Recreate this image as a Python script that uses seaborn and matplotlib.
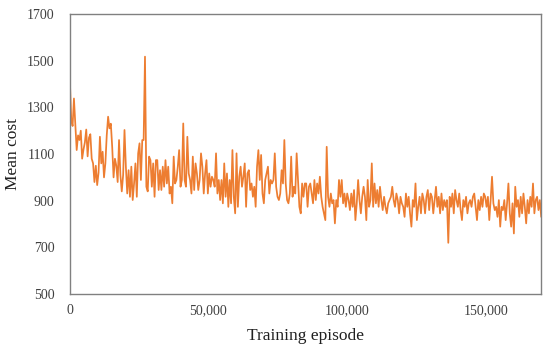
import numpy as np
import pandas as pd
import matplotlib
matplotlib.use('Agg')
import matplotlib.pyplot as plt
import seaborn as sns
from matplotlib.ticker import FuncFormatter

# --- values, left to right ---
seg1 = [1417, 1250, 1220, 1338, 1230, 1117, 1180, 1160, 1200, 1080,
        1120, 1150, 1205, 1090, 1170, 1185, 1080, 1060, 980, 1050,
        967, 1020, 1174, 1060, 1110, 1000, 1060, 1180, 1260, 1210,
        1230, 1130, 1000, 1080, 1050, 980, 1160, 1010, 940, 1010]
seg2 = [1203, 1046, 931, 1031, 917, 1046, 903, 974, 1060, 917,
        1103, 1146, 989, 1160, 1160, 1517, 960, 940, 1089, 1074,
        960, 1060, 917, 1074, 1074, 946, 1031, 946, 1046, 960,
        1074, 974, 1046, 931, 960, 889, 1089, 974, 989, 1046,
        1117, 960, 989, 1231]
seg3 = [989, 960, 1174, 1017, 989, 931, 1089, 946, 1060, 1017,
        946, 989, 1103, 1046, 931, 1017, 1074, 931, 1017, 960,
        1003, 989, 960, 1103, 931, 989, 903, 989, 889, 1060,
        917, 1017, 874, 989, 889, 1117, 917, 846, 1103, 874,
        1003, 1046, 960, 1003]
seg4 = [1060, 874, 1017, 1031, 946, 974, 917, 960, 874, 1046,
        1117, 989, 1096, 931, 889, 989, 1017, 1046, 931, 989,
        974, 989, 1103, 960, 917, 903, 931, 1031, 974, 1160,
        974, 903, 889, 931, 1089, 917, 960, 931, 1103, 989,
        874, 846, 974, 917]
seg5 = [974, 974, 874, 960, 974, 931, 889, 989, 903, 974,
        931, 1003, 917, 874, 846, 817, 1131, 917, 874, 931,
        889, 903, 803, 903, 874, 989, 917, 989, 889, 931,
        874, 931, 903, 860, 931, 874, 946, 817, 889, 989,
        903, 846, 917, 960]
seg6 = [917, 817, 989, 874, 903, 1060, 874, 974, 889, 946,
        874, 960, 903, 860, 917, 874, 846, 889, 903, 917,
        960, 903, 874, 931, 903, 846, 917, 889, 874, 831,
        931, 874, 917, 846, 789, 903, 874, 974, 817, 874,
        917, 846, 931, 903]
seg7 = [846, 917, 946, 860, 931, 917, 846, 903, 960, 874,
        917, 846, 931, 860, 903, 874, 903, 720, 917, 874,
        931, 846, 946, 903, 874, 931, 860, 817, 903, 874,
        917, 846, 889, 903, 874, 917, 931, 874, 817, 903,
        860, 917, 874, 931]
seg8 = [917, 874, 917, 817, 903, 1003, 889, 860, 874, 831,
        903, 789, 874, 860, 903, 817, 889, 974, 846, 789,
        889, 760, 960, 874, 903, 831, 917, 846, 931, 874,
        803, 903, 846, 917, 874, 974, 846, 903, 917, 860,
        903, 831]

mean_cost = seg1 + seg2 + seg3 + seg4 + seg5 + seg6 + seg7 + seg8
max_episode = 170000
episodes = np.linspace(0, max_episode, len(mean_cost))
df = pd.DataFrame({'episode': episodes, 'cost': mean_cost})

y_ticks = [500, 700, 900, 1100, 1300, 1500, 1700]
x_ticks = [0, 50000, 100000, 150000]

sns.set_theme(style='white')
plt.rcParams['font.family'] = ['Liberation Serif', 'DejaVu Serif']

fig = plt.figure(figsize=(5.5, 3.57), dpi=100)
ax = fig.add_axes([0.127, 0.176, 0.857, 0.785])
sns.lineplot(data=df, x='episode', y='cost', ax=ax, color='#ED7D31', linewidth=1.25)

ax.set_xlim(0, max_episode)
ax.set_ylim(500, 1700)
ax.set_xticks(x_ticks)
ax.set_yticks(y_ticks)
ax.xaxis.set_major_formatter(FuncFormatter(lambda v, p: f'{int(v):,}'))
ax.tick_params(axis='both', length=0, labelsize=10, colors='#404040')
ax.tick_params(axis='y', pad=11)
ax.tick_params(axis='x', pad=7)
ax.set_xlabel('Training episode', fontsize=12.5, color='#202020', labelpad=8)
ax.set_ylabel('Mean cost', fontsize=12.5, color='#202020', labelpad=4)
for s in ax.spines.values():
    s.set_color('#808080')
    s.set_linewidth(1.0)

fig.savefig('out.png', dpi=100)
